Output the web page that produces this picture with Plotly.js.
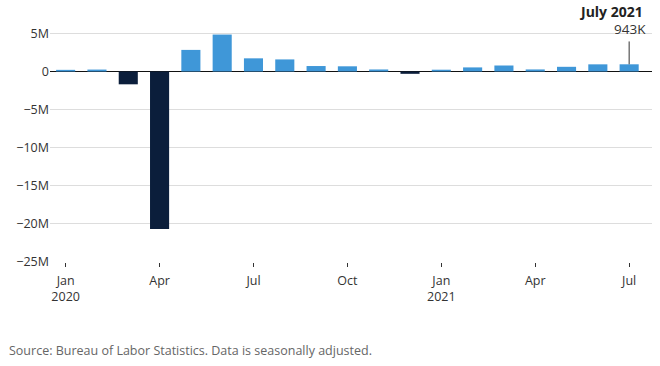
<!DOCTYPE html>
<html>
<head>
<meta charset="utf-8">
<script src="https://cdn.plot.ly/plotly-3.0.1.min.js"></script>
<style>html,body{margin:0;padding:0;background:#fff;}#chart{width:660px;height:366px;}</style>
</head>
<body>
<div id="chart"></div>
<script>
// Monthly change in nonfarm payrolls (millions), Jan 2020 - Jul 2021
const months = ["2020-01","2020-02","2020-03","2020-04","2020-05","2020-06","2020-07","2020-08","2020-09","2020-10","2020-11","2020-12","2021-01","2021-02","2021-03","2021-04","2021-05","2021-06","2021-07"];
const jobChange = [0.214, 0.251, -1.683, -20.679, 2.833, 4.846, 1.726, 1.583, 0.716, 0.680, 0.264, -0.306, 0.233, 0.536, 0.785, 0.269, 0.614, 0.938, 0.943];
const xTickVals = ["2020-01","2020-04","2020-07","2020-10","2021-01","2021-04","2021-07"];
const xTickText = ["Jan<br>2020","Apr","Jul","Oct","Jan<br>2021","Apr","Jul"];
const yTickVals = [5, 0, -5, -10, -15, -20, -25];
const yTickText = ["5M", "0", "\u22125M", "\u221210M", "\u221215M", "\u221220M", "\u221225M"];
const latestLabel = "July 2021";
const latestValueText = "943K";

const colors = jobChange.map(v => v < 0 ? "#0b1e3b" : "#3f97d8");
const lastX = months[months.length - 1];
const lastY = jobChange[jobChange.length - 1];

const font = "'Open Sans', sans-serif";

const trace = {
  type: "bar",
  x: months,
  y: jobChange,
  marker: {color: colors, line: {width: 0}},
  hoverinfo: "skip"
};

const layout = {
  width: 660, height: 366,
  margin: {l: 50, r: 8, t: 25, b: 104},
  paper_bgcolor: "#fff", plot_bgcolor: "#fff",
  showlegend: false,
  bargap: 0.39,
  font: {family: font, size: 12, color: "#333"},
  xaxis: {
    type: "category",
    range: [-0.5, 18.73],
    tickmode: "array", tickvals: xTickVals, ticktext: xTickText,
    ticks: "outside", ticklen: 4, tickwidth: 1, tickcolor: "#333",
    ticklabelstandoff: 3,
    showgrid: false, zeroline: false, showline: false,
    tickfont: {family: font, size: 12.5, color: "#333"}
  },
  yaxis: {
    range: [-25, 6.1],
    tickmode: "array", tickvals: yTickVals, ticktext: yTickText,
    showgrid: true, gridcolor: "#dddddd", gridwidth: 1,
    zeroline: true, zerolinecolor: "#111", zerolinewidth: 1,
    ticks: "", showline: false,
    tickfont: {family: font, size: 12.5, color: "#333"}
  },
  shapes: [{
    type: "line", xref: "x", yref: "y",
    x0: lastX, x1: lastX, y0: lastY, y1: lastY + 3.0,
    line: {color: "#333", width: 1}
  }],
  annotations: [
    {xref: "x", yref: "paper", x: lastX, y: 1.058, xanchor: "right", yanchor: "middle",
     xshift: 16, text: "<b>" + latestLabel + "</b>", showarrow: false,
     font: {family: font, size: 14, color: "#222"}},
    {xref: "x", yref: "paper", x: lastX, y: 0.982, xanchor: "right", yanchor: "middle",
     xshift: 19, text: latestValueText, showarrow: false,
     font: {family: font, size: 13.5, color: "#333"}},
    {xref: "paper", yref: "paper", x: -0.072, y: -0.3755, xanchor: "left", yanchor: "middle",
     text: "Source: Bureau of Labor Statistics. Data is seasonally adjusted.", showarrow: false,
     font: {family: font, size: 12.5, color: "#666"}}
  ]
};

Plotly.newPlot("chart", [trace], layout, {displayModeBar: false, staticPlot: true});
</script>
</body>
</html>
